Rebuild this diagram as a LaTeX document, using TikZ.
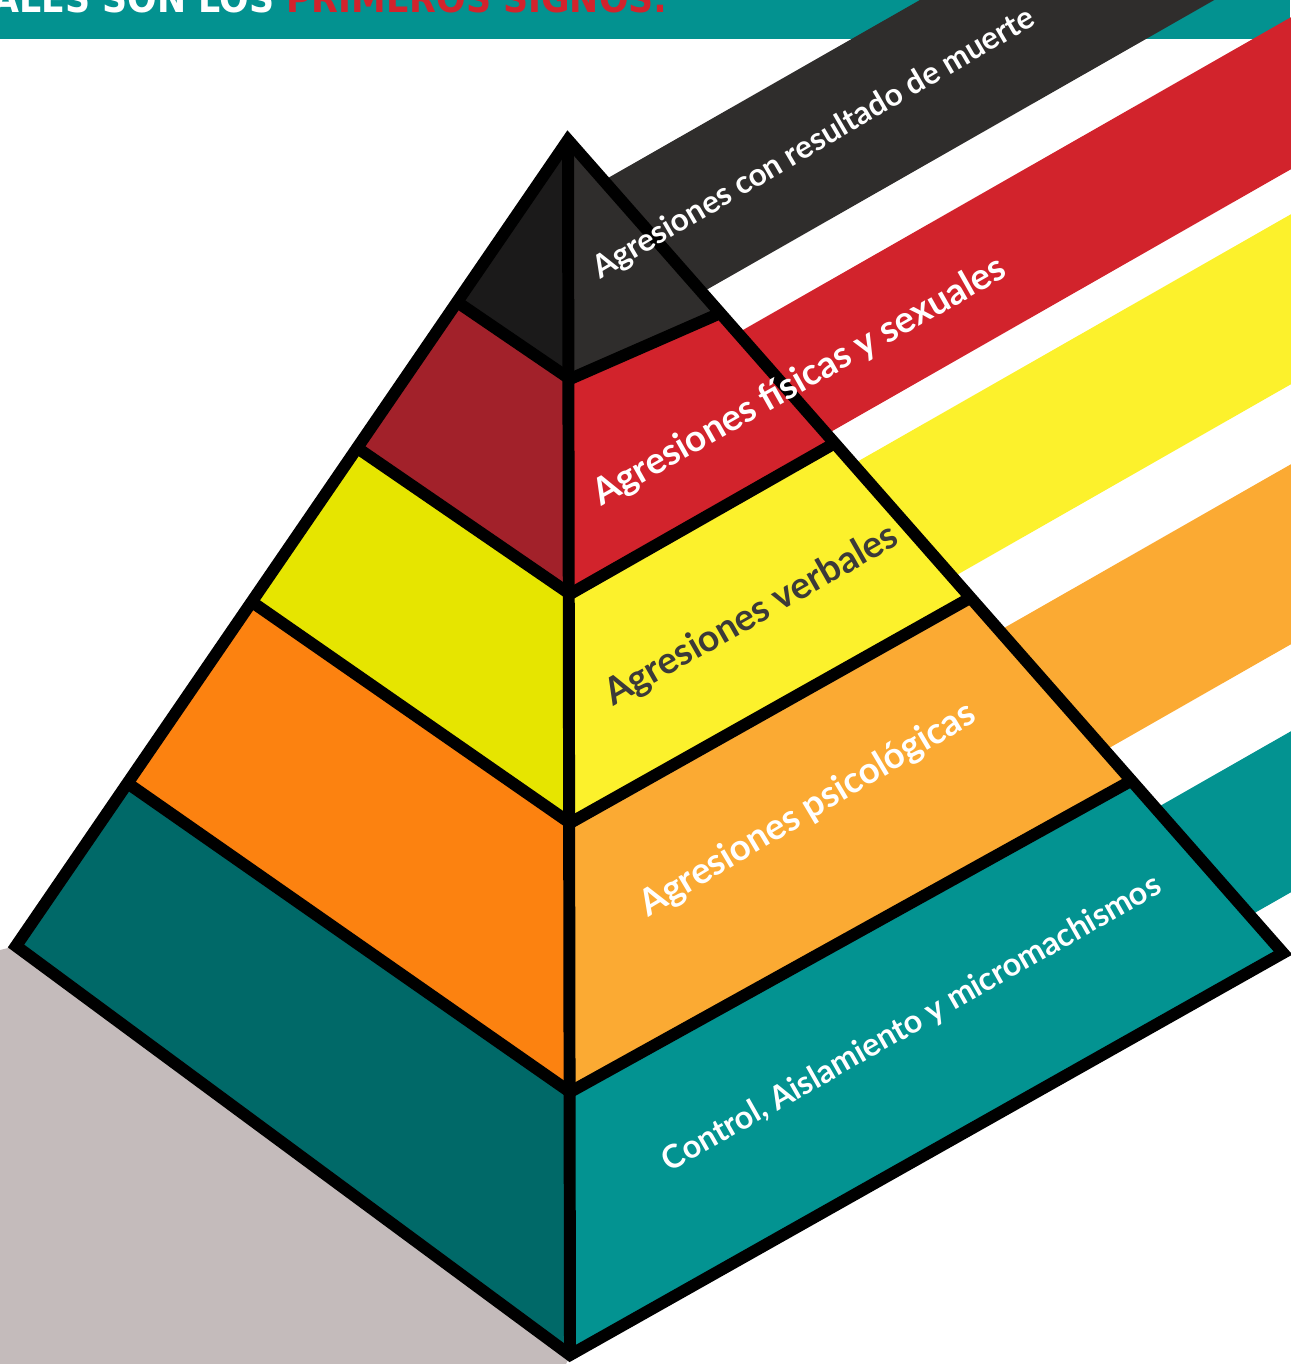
\documentclass[tikz,border=0pt]{standalone}
\usepackage{fontspec}
\setmainfont{Lato}
\newfontfamily\headfont{DejaVu Sans Condensed}
\usetikzlibrary{calc}

\definecolor{hdteal}{RGB}{3,146,144}
\definecolor{hdred}{RGB}{210,35,44}
\definecolor{blkL}{RGB}{27,26,26}
\definecolor{blkR}{RGB}{47,45,44}
\definecolor{redL}{RGB}{162,33,42}
\definecolor{redR}{RGB}{210,35,44}
\definecolor{yelL}{RGB}{230,229,0}
\definecolor{yelR}{RGB}{252,241,44}
\definecolor{orL}{RGB}{252,130,16}
\definecolor{orR}{RGB}{251,170,51}
\definecolor{tealL}{RGB}{0,105,104}
\definecolor{tealR}{RGB}{3,147,145}
\definecolor{shadow}{RGB}{196,187,187}
\definecolor{txtdark}{RGB}{60,58,57}

\begin{document}
\begin{tikzpicture}[x=0.01cm, y=-0.01cm,
    ln/.style={line width=3.4pt, line join=miter},
    lbl/.style={inner sep=0pt, text=white, font=\bfseries\fontsize{#1}{#1}\selectfont}
  ]
  \useasboundingbox (0,0) rectangle (1290,1364);

  % header band
  \fill[hdteal] (0,0) rectangle (1290,39);
  \node[anchor=base west, inner sep=0pt, text=white, font=\headfont\bfseries\fontsize{11}{12}\selectfont]
    (head) at (-8,13) {ALES SON LOS \textcolor{hdred}{PRIMEROS SIGNOS:}};

  % stripes behind the pyramid
  \foreach \yu/\yl/\col in {-211/-43/blkR, 18/170/redR, 215/385/yelR, 465/645/orR, 732/893/tealR} {
    \fill[\col] (580,\yu+405) -- (1400,\yu-63) -- (1400,\yl-63) -- (580,\yl+405) -- cycle;
  }

  % shadow
  \fill[shadow] (0,950) -- (16,946) -- (570,1356) -- (566,1364) -- (0,1364) -- cycle;

  % pyramid points
  \coordinate (A) at (568,140);
  \coordinate (l5) at (16,946);
  \coordinate (c5) at (570,1355);
  \coordinate (r5) at (1283,953);
  \coordinate (l0) at (A);
  \coordinate (c0) at (A);
  \coordinate (r0) at (A);
  \foreach \i/\tl/\cy/\tr in {1/0.201/379/0.213, 2/0.382/594/0.373, 3/0.573/823/0.563, 4/0.798/1092/0.788} {
    \coordinate (l\i) at ($(A)!\tl!(l5)$);
    \coordinate (c\i) at (570,\cy);
    \coordinate (r\i) at ($(A)!\tr!(r5)$);
  }

  % faces
  \foreach \i/\j/\cl/\cr in {0/1/blkL/blkR, 1/2/redL/redR, 2/3/yelL/yelR, 3/4/orL/orR, 4/5/tealL/tealR} {
    \fill[\cl] (l\i) -- (c\i) -- (c\j) -- (l\j) -- cycle;
    \fill[\cr] (c\i) -- (r\i) -- (r\j) -- (c\j) -- cycle;
  }

  % outlines
  \draw[ln] (A) -- (l5) -- (c5) -- (r5) -- cycle;
  \draw[ln] (A) -- (c5);
  \foreach \i in {1,...,4} {
    \draw[ln] (l\i) -- (c\i) -- (r\i);
  }

  % labels
  \node[lbl=9, rotate=30.3] (muerte) at (814,144) {Agresiones con resultado de muerte};
  \node[lbl=10.5, rotate=29.5] (fisicas) at (800,382) {Agresiones físicas y sexuales};
  \node[lbl=10.6, rotate=29.6, text=txtdark] (verbales) at (752,616) {Agresiones verbales};
  \node[lbl=10.4, rotate=30.8] (psico) at (808,810) {Agresiones psicológicas};
  \node[lbl=9.2, rotate=29.6] (control) at (912,1024) {Control, Aislamiento y micromachismos};
\end{tikzpicture}
\end{document}
